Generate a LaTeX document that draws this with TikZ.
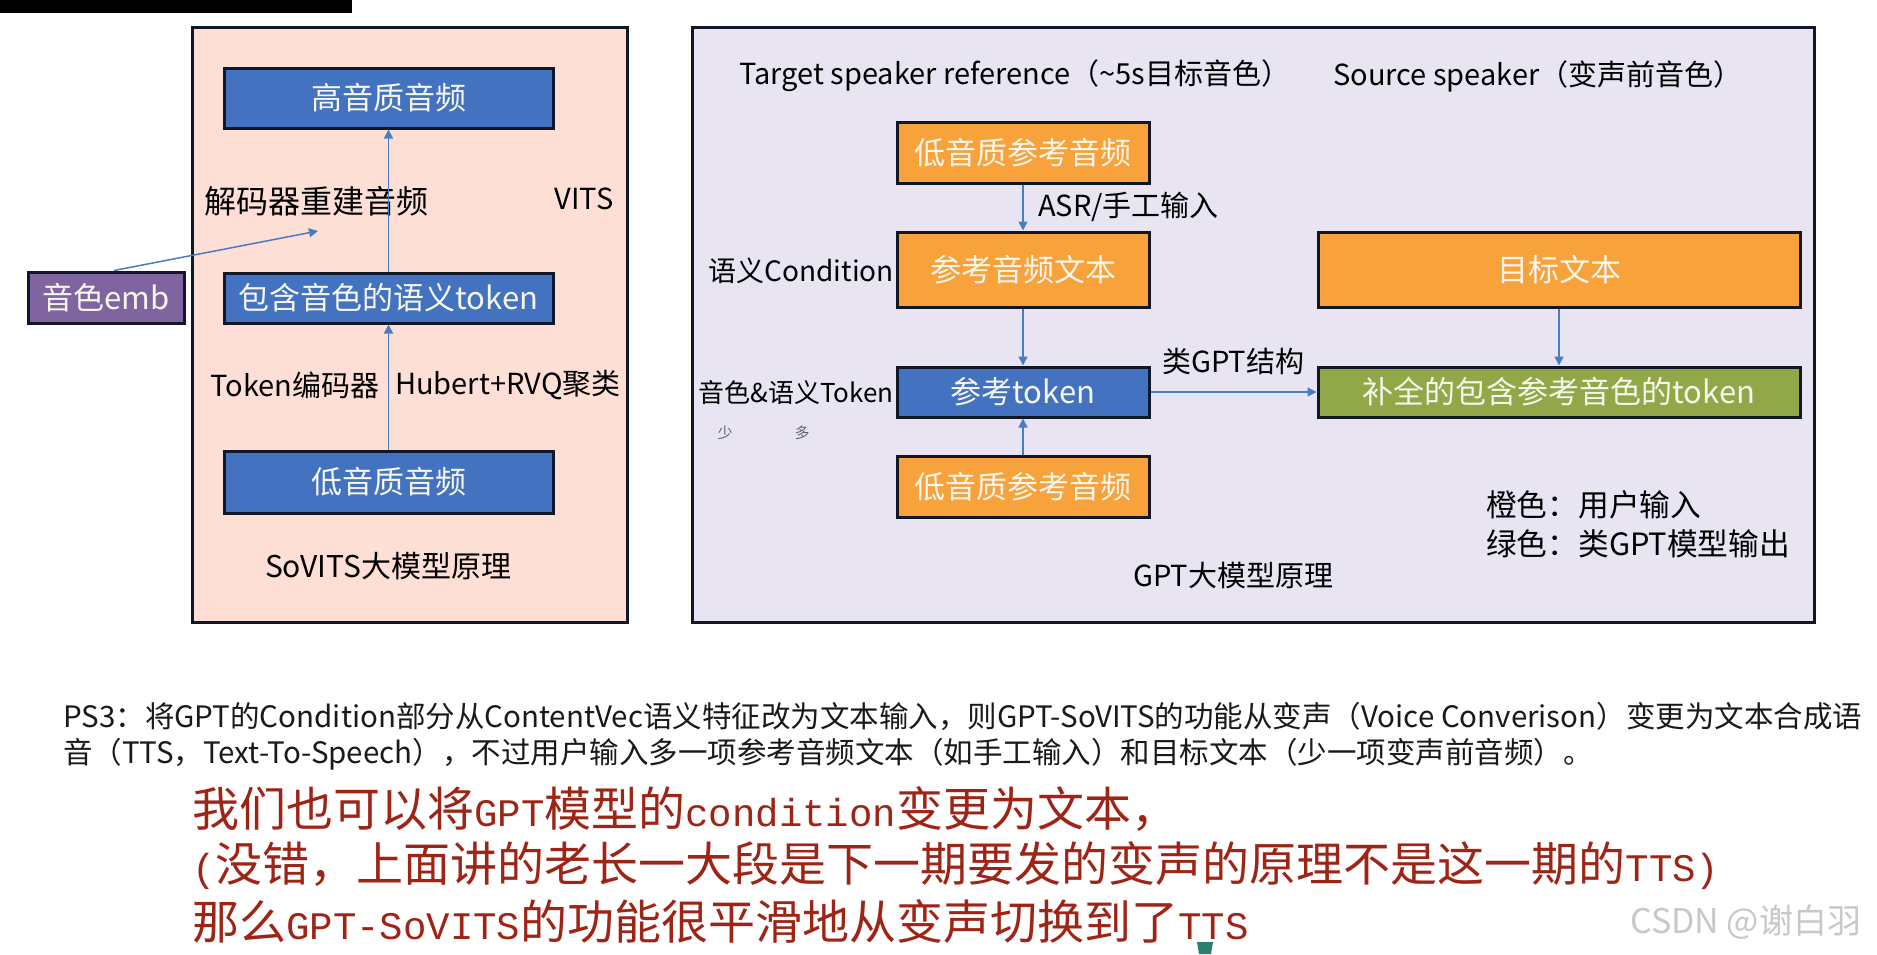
\documentclass[tikz,border=0pt]{standalone}
\usepackage{fontspec}
\setmainfont{Noto Sans CJK SC}
\setmonofont{Liberation Mono}
\usetikzlibrary{arrows.meta,positioning}

\definecolor{pinkbg}{RGB}{253,223,214}
\definecolor{lavbg}{RGB}{233,228,241}
\definecolor{edge}{RGB}{16,24,40}
\definecolor{boxblue}{RGB}{66,114,192}
\definecolor{boxorange}{RGB}{248,162,60}
\definecolor{boxgreen}{RGB}{146,168,72}
\definecolor{boxpurple}{RGB}{128,100,160}
\definecolor{boxtxt}{RGB}{246,246,236}
\definecolor{arrowblue}{RGB}{74,124,192}
\definecolor{notered}{RGB}{158,36,22}
\definecolor{markgrey}{RGB}{200,200,200}
\definecolor{cursorteal}{RGB}{40,128,110}

\newcommand{\fsz}[1]{\fontsize{#1}{#1}\selectfont}
\newcommand{\lat}[1]{{\ttfamily\fsz{39}#1}}

\tikzset{>={Triangle[length=9pt,width=9pt]}}
\tikzstyle{flow}=[->, draw=arrowblue, line width=1.5pt]
\tikzstyle{panel}=[draw=edge, line width=3pt]
\tikzstyle{box}=[draw=edge, line width=3pt, text=boxtxt, font=\fsz{31}, inner sep=0pt]
\tikzstyle{lbl}=[font=\fsz{29}, inner sep=0pt]
\tikzstyle{hint}=[font=\fsz{15}, text=black!60, inner sep=0pt]
\tikzstyle{note}=[font=\fsz{29.5}, text=black!90, inner sep=0pt]
\tikzstyle{redline}=[font=\fsz{47}, text=notered, inner sep=0pt]
\tikzstyle{wm}=[font=\fsz{34}, text=markgrey, inner sep=0pt]

\begin{document}
\begin{tikzpicture}[x=1pt,y=-1pt]
	\fill[white] (0,0) rectangle (1877,954);
	\useasboundingbox (0,0) rectangle (1877,954);
	\fill[black] (0,0) rectangle (352,13);
	% SoVITS
	\draw[panel, fill=pinkbg] (192,27) rectangle (627,622);
	\node[box, fill=boxblue, minimum width=329pt, minimum height=60pt] (highq) at (388.5,98) {高音质音频};
	\node[box, fill=boxblue, minimum width=329pt, minimum height=50pt] (sem) at (388.5,298) {包含音色的语义token};
	\node[box, fill=boxblue, minimum width=329pt, minimum height=62pt] (lowq) at (388.5,482) {低音质音频};
	\node[box, fill=boxpurple, minimum width=156pt, minimum height=51pt] (emb) at (106,297.5) {音色emb};
	\node[lbl, font=\fsz{32}] (declbl) at (316,201) {解码器重建音频};
	\node[lbl] (vits) at (584,199) {VITS};
	\node[lbl] (enclbl) at (295,385) {Token编码器};
	\node[lbl] (hublbl) at (508,385) {Hubert+RVQ聚类};
	\node[lbl, font=\fsz{30}] (sovits) at (388,566) {SoVITS大模型原理};
	\coordinate (decin) at (318,231);
	\draw[flow] (lowq) -- (sem);
	\draw[flow] (sem) -- (highq);
	\draw[flow] ([xshift=8pt]emb.north) -- (decin);
	% GPT
	\draw[panel, fill=lavbg] (692,27) rectangle (1814,622);
	\node[box, fill=boxorange, minimum width=252pt, minimum height=61pt] (refaud) at (1023,152.5) {低音质参考音频};
	\node[box, fill=boxorange, minimum width=252pt, minimum height=75pt] (reftxt) at (1023,269.5) {参考音频文本};
	\node[box, fill=boxblue, minimum width=252pt, minimum height=50pt] (reftok) at (1023,392) {参考token};
	\node[box, fill=boxorange, minimum width=252pt, minimum height=61pt] (refaud2) at (1023,486.5) {低音质参考音频};
	\node[box, fill=boxorange, minimum width=482pt, minimum height=75pt] (tgttxt) at (1559,269.5) {目标文本};
	\node[box, fill=boxgreen, minimum width=482pt, minimum height=50pt] (fulltok) at (1559,392) {补全的包含参考音色的token};
	\node[lbl, anchor=west] (tgtspk) at (739,76) {Target speaker reference（\textasciitilde5s目标音色）};
	\node[lbl, anchor=west] (srcspk) at (1333,76) {Source speaker（变声前音色）};
	\node[lbl, anchor=west] (asr) at (1038,207) {ASR/手工输入};
	\node[lbl, anchor=east, font=\fsz{28}] (condlbl) at (894,271) {语义Condition};
	\node[lbl, anchor=east, font=\fsz{26}] (toklbl) at (894,393) {音色\&语义Token};
	\node[hint] (few) at (725,433) {少};
	\node[hint] (many) at (802,433) {多};
	\node[lbl] (gptlbl) at (1233,361) {类GPT结构};
	\node[lbl] (gpttitle) at (1233,575) {GPT大模型原理};
	\node[lbl, anchor=west, font=\fsz{30.7}] (legend1) at (1486,505) {橙色：用户输入};
	\node[lbl, anchor=west, font=\fsz{30.7}] (legend2) at (1486,544) {绿色：类GPT模型输出};
	\draw[flow] (refaud) -- (reftxt);
	\draw[flow] (reftxt) -- (reftok);
	\draw[flow] (refaud2) -- (reftok);
	\draw[flow] (reftok) -- (fulltok);
	\draw[flow] (tgttxt) -- (fulltok);
	% notes
	\node[note, anchor=west] (ps1) at (63,716) {PS3：将GPT的Condition部分从ContentVec语义特征改为文本输入，则GPT-SoVITS的功能从变声（Voice Converison）变更为文本合成语};
	\node[note, anchor=west] (ps2) at (63,754) {音（TTS，Text-To-Speech），不过用户输入多一项参考音频文本（如手工输入）和目标文本（少一项变声前音频）。};
	\node[redline, anchor=west] (red1) at (192,809) {我们也可以将\lat{GPT}模型的\lat{condition}变更为文本，};
	\node[redline, anchor=west] (red2) at (192,866) {\lat{(}没错，上面讲的老长一大段是下一期要发的变声的原理不是这一期的\lat{TTS)}};
	\node[redline, anchor=west] (red3) at (192,922) {那么\lat{GPT-SoVITS}的功能很平滑地从变声切换到了\lat{TTS}};
	\node[wm, anchor=west] (csdn) at (1630,922) {CSDN @谢白羽};
	\fill[cursorteal] (1197,942) -- (1213,942) -- (1211,954) -- (1199,954) -- cycle;
\end{tikzpicture}
\end{document}
